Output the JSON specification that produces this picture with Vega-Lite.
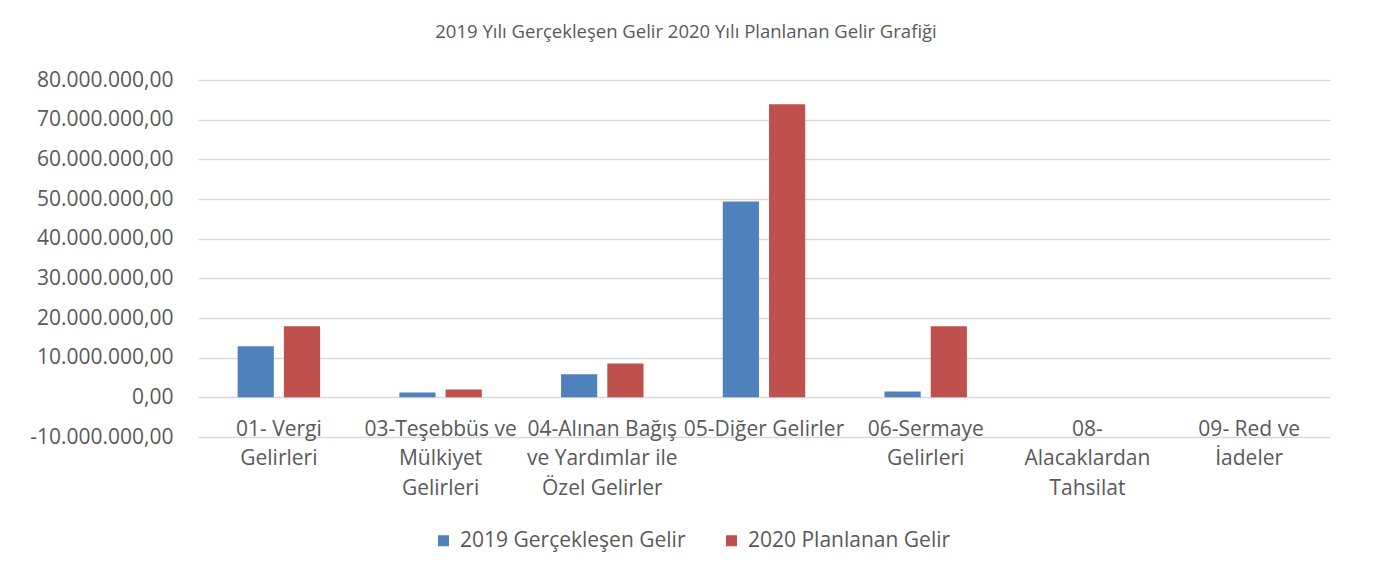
{
  "$schema": "https://vega.github.io/schema/vega-lite/v6.json",
  "width": 1132,
  "height": 357,
  "autosize": {"type": "none"},
  "padding": {"left": 198, "top": 80, "right": 44, "bottom": 138},
  "background": "white",
  "title": {
    "text": "2019 Yılı Gerçekleşen Gelir 2020 Yılı Planlanan Gelir Grafiği",
    "font": "Open Sans",
    "fontSize": 18.5,
    "fontWeight": "normal",
    "color": "#595959",
    "anchor": "middle",
    "dx": -78,
    "offset": 28
  },
  "data": {
    "values": [
      {"kategori": "01- Vergi|Gelirleri", "seri": "2019 Gerçekleşen Gelir", "deger": 12900000},
      {"kategori": "01- Vergi|Gelirleri", "seri": "2020 Planlanan Gelir", "deger": 17900000},
      {"kategori": "03-Teşebbüs ve|Mülkiyet|Gelirleri", "seri": "2019 Gerçekleşen Gelir", "deger": 1200000},
      {"kategori": "03-Teşebbüs ve|Mülkiyet|Gelirleri", "seri": "2020 Planlanan Gelir", "deger": 2000000},
      {"kategori": "04-Alınan Bağış|ve Yardımlar ile|Özel Gelirler", "seri": "2019 Gerçekleşen Gelir", "deger": 5800000},
      {"kategori": "04-Alınan Bağış|ve Yardımlar ile|Özel Gelirler", "seri": "2020 Planlanan Gelir", "deger": 8500000},
      {"kategori": "05-Diğer Gelirler", "seri": "2019 Gerçekleşen Gelir", "deger": 49400000},
      {"kategori": "05-Diğer Gelirler", "seri": "2020 Planlanan Gelir", "deger": 73900000},
      {"kategori": "06-Sermaye|Gelirleri", "seri": "2019 Gerçekleşen Gelir", "deger": 1500000},
      {"kategori": "06-Sermaye|Gelirleri", "seri": "2020 Planlanan Gelir", "deger": 17900000},
      {"kategori": "08-|Alacaklardan|Tahsilat", "seri": "2019 Gerçekleşen Gelir", "deger": 0},
      {"kategori": "08-|Alacaklardan|Tahsilat", "seri": "2020 Planlanan Gelir", "deger": 0},
      {"kategori": "09- Red ve|İadeler", "seri": "2019 Gerçekleşen Gelir", "deger": 0},
      {"kategori": "09- Red ve|İadeler", "seri": "2020 Planlanan Gelir", "deger": 0}
    ]
  },
  "mark": {"type": "bar"},
  "encoding": {
    "x": {
      "field": "kategori",
      "type": "nominal",
      "sort": null,
      "scale": {"paddingInner": 0.49, "paddingOuter": 0.245},
      "axis": {
        "title": null,
        "orient": "bottom",
        "offset": -40,
        "domain": false,
        "ticks": false,
        "labelAngle": 0,
        "labelExpr": "split(datum.label, '|')",
        "labelFont": "Open Sans",
        "labelFontSize": 21,
        "labelColor": "#595959",
        "labelLineHeight": 29.5,
        "labelPadding": 21,
        "labelBaseline": "top",
        "labelAlign": "center",
        "labelLimit": 300
      }
    },
    "xOffset": {
      "field": "seri",
      "type": "nominal",
      "sort": null,
      "scale": {"paddingInner": 0.217, "paddingOuter": 0}
    },
    "y": {
      "field": "deger",
      "type": "quantitative",
      "scale": {"domain": [-10000000, 80000000], "nice": false, "zero": false},
      "axis": {
        "title": null,
        "values": [-10000000, 0, 10000000, 20000000, 30000000, 40000000, 50000000, 60000000, 70000000, 80000000],
        "format": ",.2f",
        "domain": false,
        "ticks": false,
        "grid": true,
        "gridColor": "#d9d9d9",
        "gridWidth": 1.3,
        "labelFont": "Open Sans",
        "labelFontSize": 21,
        "labelColor": "#595959",
        "labelPadding": 25
      }
    },
    "color": {
      "field": "seri",
      "type": "nominal",
      "sort": null,
      "scale": {"range": ["#4f81bd", "#c0504d"]},
      "legend": {
        "title": null,
        "orient": "none",
        "direction": "horizontal",
        "legendX": 235,
        "legendY": 450,
        "symbolType": "square",
        "symbolSize": 121,
        "symbolStrokeWidth": 0,
        "labelFont": "Open Sans",
        "labelFontSize": 21,
        "labelColor": "#595959",
        "labelOffset": 6,
        "columnPadding": 35,
        "labelLimit": 400
      }
    }
  },
  "config": {
    "view": {"stroke": null},
    "locale": {
      "number": {
        "decimal": ",",
        "thousands": ".",
        "grouping": [3],
        "currency": ["", " ₺"],
        "minus": "-"
      }
    }
  }
}
